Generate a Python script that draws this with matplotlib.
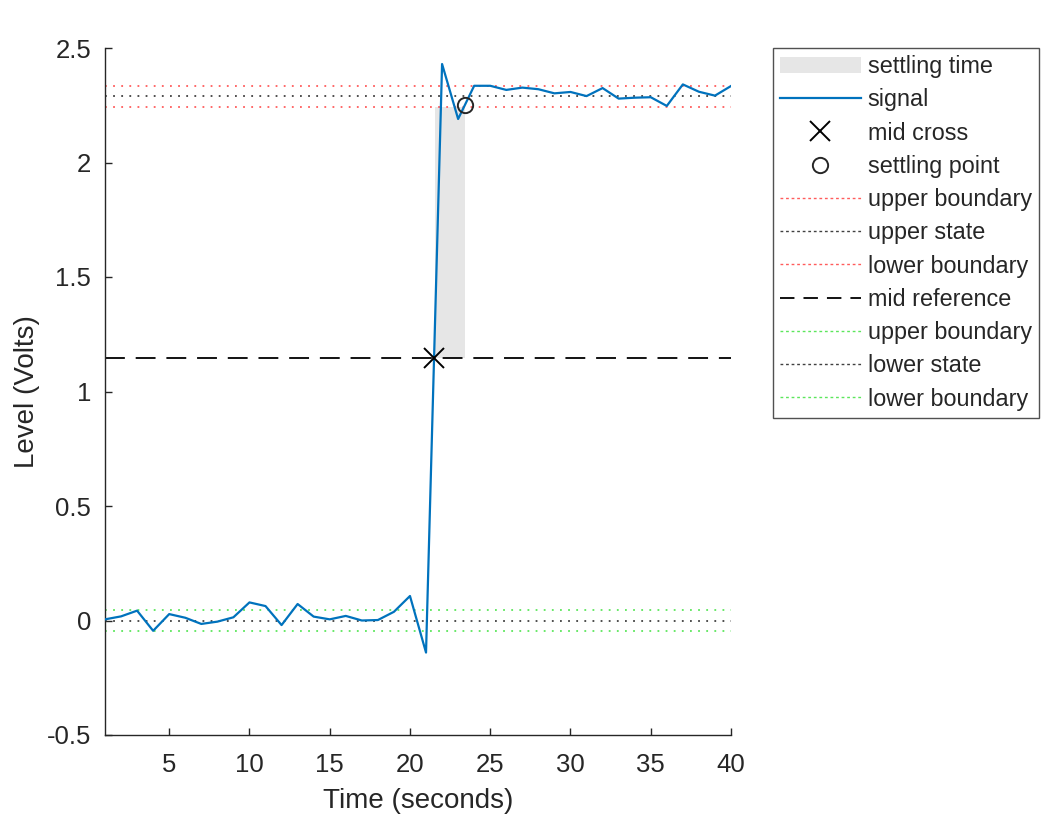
import matplotlib
matplotlib.use("Agg")
import matplotlib.pyplot as plt
import numpy as np
from matplotlib.patches import Patch
from matplotlib.lines import Line2D

plt.rcParams['font.family'] = ['Liberation Sans', 'DejaVu Sans']

# data
time = list(range(1, 41))
signal = [0.005, 0.018, 0.043, -0.045, 0.028, 0.012, -0.015, -0.005, 0.014, 0.079,
          0.063, -0.020, 0.072, 0.017, 0.005, 0.020, 0.000, 0.002, 0.038, 0.107,
          -0.140, 2.430, 2.190, 2.335, 2.335, 2.317, 2.327, 2.320, 2.302, 2.308,
          2.290, 2.325, 2.279, 2.283, 2.285, 2.247, 2.341, 2.309, 2.292, 2.334]
upper_state = 2.29
lower_state = 0.0
tol = 0.046
mid_ref = 1.145
mid_cross_t = 21.5
settle_t = 23.4
settle_v = 2.25

fig = plt.figure(figsize=(10.43, 8.18), dpi=100)
ax = fig.add_axes([105/1043, 1-735/818, (731-105)/1043, (735-48)/818])

txtc = '#262626'
# settling time patch
ax.fill_between([mid_cross_t + 0.05, settle_t], [mid_ref, mid_ref],
                [upper_state - tol, upper_state - tol], color='#e6e6e6', lw=0, zorder=1)
ax.plot(time, signal, color='#0072BD', lw=1.6, zorder=3)
ax.plot([mid_cross_t], [mid_ref], marker='x', color='black', ms=15, mew=1.4, ls='none', zorder=4)
ax.plot([settle_t], [settle_v], marker='o', mfc='none', mec='#262626', ms=11, mew=1.4, ls='none', zorder=4)

red = '#ff5c5c'
green = '#5ce65c'
gray = '#404040'
dot = (0, (1, 3.5))
kw = dict(lw=1.3, zorder=2)
ax.axhline(upper_state + tol, color=red, ls=dot, **kw)
ax.axhline(upper_state, color=gray, ls=dot, **kw)
ax.axhline(upper_state - tol, color=red, ls=dot, **kw)
ax.axhline(mid_ref, color='black', ls=(0, (11, 6)), lw=1.3, zorder=2)
ax.axhline(lower_state + tol, color=green, ls=dot, **kw)
ax.axhline(lower_state, color=gray, ls=dot, **kw)
ax.axhline(lower_state - tol, color=green, ls=dot, **kw)

ax.set_xlim(1, 40)
ax.set_ylim(-0.5, 2.5)
ax.set_xticks([5, 10, 15, 20, 25, 30, 35, 40])
ax.set_yticks([-0.5, 0, 0.5, 1, 1.5, 2, 2.5])
ax.set_yticklabels(['-0.5', '0', '0.5', '1', '1.5', '2', '2.5'])
for s in ['top', 'right']:
    ax.spines[s].set_visible(False)
for s in ['left', 'bottom']:
    ax.spines[s].set_color(txtc)
    ax.spines[s].set_linewidth(1.0)
ax.tick_params(direction='in', length=5, width=1.0, color=txtc, labelcolor=txtc,
               labelsize=18.5)
ax.tick_params(axis='x', pad=13)
ax.tick_params(axis='y', pad=10)
ax.set_xlabel('Time (seconds)', fontsize=20, color=txtc, labelpad=8)
ax.set_ylabel('Level (Volts)', fontsize=20, color=txtc, labelpad=5)

handles = [
    Patch(facecolor='#e6e6e6', edgecolor='none'),
    Line2D([], [], color='#0072BD', lw=1.6),
    Line2D([], [], color='black', marker='x', ls='none', ms=15, mew=1.4),
    Line2D([], [], color='#262626', marker='o', mfc='none', ls='none', ms=11, mew=1.4),
    Line2D([], [], color=red, ls=(0, (2, 2)), lw=1.0),
    Line2D([], [], color=gray, ls=(0, (2, 2)), lw=1.0),
    Line2D([], [], color=red, ls=(0, (2, 2)), lw=1.0),
    Line2D([], [], color='black', ls=(0, (8, 5)), lw=1.3),
    Line2D([], [], color=green, ls=(0, (2, 2)), lw=1.0),
    Line2D([], [], color=gray, ls=(0, (2, 2)), lw=1.0),
    Line2D([], [], color=green, ls=(0, (2, 2)), lw=1.0),
]
labels = ['settling time', 'signal', 'mid cross', 'settling point', 'upper boundary',
          'upper state', 'lower boundary', 'mid reference', 'upper boundary',
          'lower state', 'lower boundary']
leg = fig.legend(handles, labels, loc='upper left', bbox_to_anchor=(773/1043, 1-48/818),
                 fontsize=16.8, frameon=True, fancybox=False, handlelength=3.45,
                 handletextpad=0.3, labelspacing=0.44, borderpad=0.3, borderaxespad=0,
                 labelcolor=txtc)
leg.get_frame().set_edgecolor('#262626')
leg.get_frame().set_linewidth(1.0)

fig.savefig('out.png', dpi=100)
